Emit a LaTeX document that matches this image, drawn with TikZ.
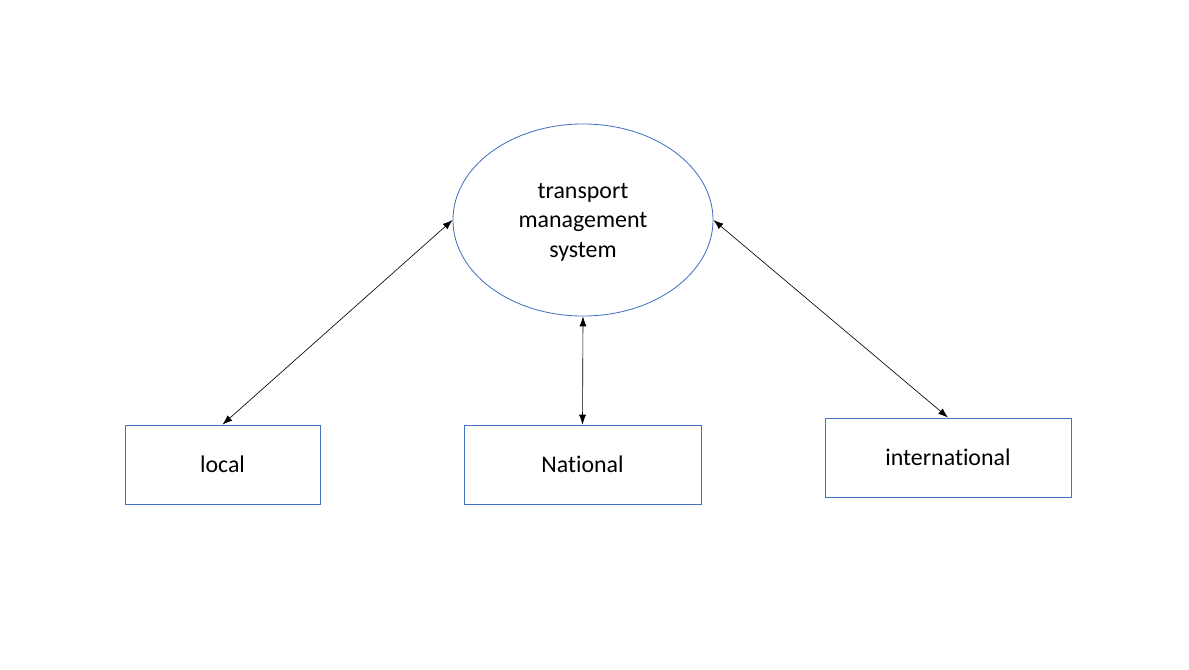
\documentclass[tikz,border=0pt]{standalone}
\usepackage{fontspec}
\setmainfont{Carlito}[Ligatures=NoCommon]
\usepackage{tikz}
\usetikzlibrary{shapes.geometric,arrows.meta}
\definecolor{officeblue}{HTML}{4472C4}

\begin{document}
\begin{tikzpicture}[x=0.025cm, y=-0.025cm,
   every node/.style={font=\fontsize{17}{21}\selectfont, align=center, inner sep=0pt},
   place/.style={draw=officeblue, line width=0.6pt, minimum height=1.975cm},
   link/.style={{Latex[length=7pt,width=5pt]}-{Latex[length=7pt,width=5pt]}, line width=0.45pt, black}]

   \useasboundingbox (0,0) rectangle (1189,670);

   \node[ellipse, draw=officeblue, line width=0.6pt, minimum width=6.5cm, minimum height=4.8cm, text depth=-0.1cm] (tms) at (583,220) {transport\\management\\system};

   \node[place, minimum width=4.875cm] (local) at (222.5,464.5) {local};
   \node[place, minimum width=5.925cm] (national) at (582.5,464.5) {National};
   \node[place, minimum width=6.15cm] (intl) at (948,457.5) {international};

   \draw[link] (tms.west) -- (local.north);
   \draw[link] (tms.south) -- (national.north);
   \draw[link] (tms.east) -- (intl.north);

\end{tikzpicture}
\end{document}
